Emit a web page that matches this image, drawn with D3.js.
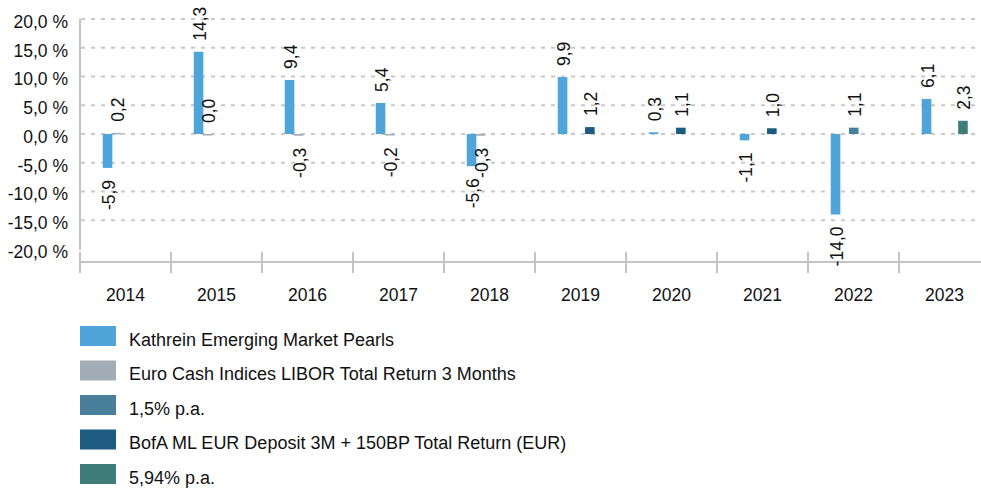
<!DOCTYPE html>
<html>
<head>
<meta charset="utf-8">
<script src="https://cdn.jsdelivr.net/npm/d3@7/dist/d3.min.js"></script>
<style>
  html, body { margin: 0; padding: 0; background: #fff; }
  svg { display: block; font-family: "Liberation Sans", Arial, sans-serif; }
  text { fill: #111; }
</style>
</head>
<body>
<div id="chart"></div>
<script>
// Annual performance bars, one group per year, with rotated value labels.

const years = ["2014", "2015", "2016", "2017", "2018", "2019", "2020", "2021", "2022", "2023"];
const seriesNames = [
  "Kathrein Emerging Market Pearls",
  "Euro Cash Indices LIBOR Total Return 3 Months",
  "1,5% p.a.",
  "BofA ML EUR Deposit 3M + 150BP Total Return (EUR)",
  "5,94% p.a."
];
const seriesColors = ["#4fa5da", "#a3adb8", "#4a7f9b", "#1d5c80", "#3f7d7b"];

// null = no bar for that year
const kathrein  = [-5.9, 14.3, 9.4, 5.4, -5.6, 9.9, 0.3, -1.1, -14.0, 6.1];
const euroCash  = [0.2, 0.0, -0.3, -0.2, -0.3, null, null, null, null, null];
const fixed15   = [null, null, null, null, null, null, null, null, 1.1, null];
const bofa      = [null, null, null, null, null, 1.2, 1.1, 1.0, null, null];
const fixed594  = [null, null, null, null, null, null, null, null, null, 2.3];

const yTicks = [20, 15, 10, 5, 0, -5, -10, -15, -20];

const seriesValues = [kathrein, euroCash, fixed15, bofa, fixed594];

const W = 981, H = 488;
const svg = d3.select("#chart").append("svg").attr("width", W).attr("height", H);

const fmt = v => v.toFixed(1).replace(".", ",");

const x0 = d3.scaleBand().domain(years).range([80, 990]);
const bw = x0.bandwidth();
const x1 = d3.scaleBand().domain(d3.range(seriesNames.length)).range([bw * 0.25, bw * 0.75]);
const y = d3.scaleLinear().domain([-20, 20]).range([249, 19]);

// grid
svg.append("g").selectAll("line").data(yTicks.filter(t => t > -20)).join("line")
  .attr("x1", 81).attr("x2", W)
  .attr("y1", d => y(d)).attr("y2", d => y(d))
  .attr("stroke", "#c8c8c8").attr("stroke-width", 2)
  .attr("stroke-dasharray", "4,6");

// y axis line + labels
svg.append("line").attr("x1", 80).attr("x2", 80).attr("y1", y(20)).attr("y2", y(-20) + 1)
  .attr("stroke", "#c4c4c4").attr("stroke-width", 2);
svg.append("g").selectAll("text").data(yTicks).join("text")
  .attr("x", 68).attr("y", d => y(d)).attr("dy", "0.5em")
  .attr("text-anchor", "end").attr("font-size", 17.5)
  .text(d => fmt(d) + " %");

// x axis (sits below the plot)
const axisY = 262;
svg.append("line").attr("x1", 80).attr("x2", W).attr("y1", axisY).attr("y2", axisY)
  .attr("stroke", "#c4c4c4").attr("stroke-width", 2);
svg.append("g").selectAll("line").data(years).join("line")
  .attr("x1", d => x0(d)).attr("x2", d => x0(d))
  .attr("y1", 252).attr("y2", 273)
  .attr("stroke", "#c4c4c4").attr("stroke-width", 2);
svg.append("g").selectAll("text").data(years).join("text")
  .attr("x", d => x0(d) + bw / 2).attr("y", 301)
  .attr("text-anchor", "middle").attr("font-size", 17.5)
  .text(d => d);

// bars
const cells = [];
seriesValues.forEach((vals, s) => vals.forEach((v, i) => {
  if (v != null) cells.push({ s, year: years[i], v });
}));

const gBars = svg.append("g");
gBars.selectAll("rect").data(cells).join("rect")
  .attr("x", d => x0(d.year) + x1(d.s))
  .attr("width", x1.bandwidth() + 0.5)
  .attr("y", d => Math.min(y(d.v), y(0)))
  .attr("height", d => Math.max(Math.abs(y(d.v) - y(0)), 1.5))
  .attr("fill", d => seriesColors[d.s]);

// value labels, rotated
gBars.selectAll("text").data(cells).join("text")
  .attr("transform", d => {
    const cx = x0(d.year) + x1(d.s) + x1.bandwidth() / 2 + 1;
    const cy = d.v >= 0 ? y(d.v) - 11 : y(d.v) + 12;
    return `translate(${cx},${cy}) rotate(-90)`;
  })
  .attr("dy", "0.36em")
  .attr("text-anchor", d => d.v >= 0 ? "start" : "end")
  .attr("font-size", 17.5)
  .text(d => fmt(d.v));

// legend
const lg = svg.append("g").selectAll("g").data(seriesNames).join("g")
  .attr("transform", (d, i) => `translate(80,${326 + i * 34.5})`);
lg.append("rect").attr("width", 36).attr("height", 20).attr("fill", (d, i) => seriesColors[i]);
lg.append("text").attr("x", 49).attr("y", 19.5).attr("font-size", 18).text(d => d);
</script>
</body>
</html>
